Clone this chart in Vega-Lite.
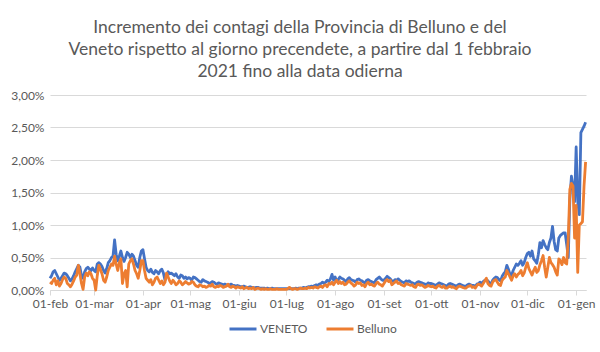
{
"$schema": "https://vega.github.io/schema/vega-lite/v6.json",
"width": 536, "height": 195,
"autosize": {"type": "none"},
"padding": {"left": 50, "top": 95, "right": 14, "bottom": 62},
"background": "white",
"title": {"text": ["Incremento dei contagi della Provincia di Belluno e del", "Veneto rispetto al giorno precendete, a partire dal 1 febbraio", "2021 fino alla data odierna"], "font": "Lato", "fontSize": 17.5, "fontWeight": "normal", "color": "#595959", "lineHeight": 22, "anchor": "middle", "frame": "group", "dx": -18, "offset": 9},
"data": {"values": [
{"d":"2021-02-01","v":0.18,"b":0.12},{"d":"2021-02-02","v":0.22,"b":0.10},{"d":"2021-02-03","v":0.28,"b":0.15},{"d":"2021-02-04","v":0.30,"b":0.18},{"d":"2021-02-05","v":0.25,"b":0.08},{"d":"2021-02-06","v":0.20,"b":0.14},{"d":"2021-02-07","v":0.15,"b":0.06},{"d":"2021-02-08","v":0.18,"b":0.10},{"d":"2021-02-09","v":0.22,"b":0.16},{"d":"2021-02-10","v":0.26,"b":0.20},{"d":"2021-02-11","v":0.25,"b":0.18},{"d":"2021-02-12","v":0.22,"b":0.10},{"d":"2021-02-13","v":0.18,"b":0.08},{"d":"2021-02-14","v":0.14,"b":0.05},{"d":"2021-02-15","v":0.17,"b":0.09},{"d":"2021-02-16","v":0.22,"b":0.14},{"d":"2021-02-17","v":0.28,"b":0.20},{"d":"2021-02-18","v":0.33,"b":0.23},{"d":"2021-02-19","v":0.38,"b":0.38},{"d":"2021-02-20","v":0.35,"b":0.25},{"d":"2021-02-21","v":0.22,"b":0.10},{"d":"2021-02-22","v":0.18,"b":0.01},{"d":"2021-02-23","v":0.28,"b":0.20},{"d":"2021-02-24","v":0.33,"b":0.26},{"d":"2021-02-25","v":0.35,"b":0.22},{"d":"2021-02-26","v":0.32,"b":0.28},{"d":"2021-02-27","v":0.30,"b":0.25},{"d":"2021-02-28","v":0.34,"b":0.18},
{"d":"2021-03-01","v":0.30,"b":0.15},{"d":"2021-03-02","v":0.28,"b":0.00},{"d":"2021-03-03","v":0.40,"b":0.22},{"d":"2021-03-04","v":0.42,"b":0.38},{"d":"2021-03-05","v":0.40,"b":0.32},{"d":"2021-03-06","v":0.36,"b":0.25},{"d":"2021-03-07","v":0.30,"b":0.15},{"d":"2021-03-08","v":0.26,"b":0.12},{"d":"2021-03-09","v":0.33,"b":0.20},{"d":"2021-03-10","v":0.42,"b":0.30},{"d":"2021-03-11","v":0.45,"b":0.35},{"d":"2021-03-12","v":0.50,"b":0.40},{"d":"2021-03-13","v":0.52,"b":0.38},{"d":"2021-03-14","v":0.77,"b":0.52},{"d":"2021-03-15","v":0.55,"b":0.40},{"d":"2021-03-16","v":0.45,"b":0.30},{"d":"2021-03-17","v":0.52,"b":0.42},{"d":"2021-03-18","v":0.60,"b":0.48},{"d":"2021-03-19","v":0.50,"b":0.10},{"d":"2021-03-20","v":0.44,"b":0.25},{"d":"2021-03-21","v":0.50,"b":0.30},{"d":"2021-03-22","v":0.58,"b":0.05},{"d":"2021-03-23","v":0.55,"b":0.40},{"d":"2021-03-24","v":0.50,"b":0.45},{"d":"2021-03-25","v":0.55,"b":0.48},{"d":"2021-03-26","v":0.52,"b":0.40},{"d":"2021-03-27","v":0.45,"b":0.30},{"d":"2021-03-28","v":0.38,"b":0.25},{"d":"2021-03-29","v":0.35,"b":0.18},{"d":"2021-03-30","v":0.50,"b":0.30},{"d":"2021-03-31","v":0.60,"b":0.45},
{"d":"2021-04-01","v":0.62,"b":0.45},{"d":"2021-04-02","v":0.48,"b":0.30},{"d":"2021-04-03","v":0.35,"b":0.18},{"d":"2021-04-04","v":0.30,"b":0.15},{"d":"2021-04-05","v":0.28,"b":0.12},{"d":"2021-04-06","v":0.32,"b":0.16},{"d":"2021-04-07","v":0.27,"b":0.08},{"d":"2021-04-08","v":0.25,"b":0.12},{"d":"2021-04-09","v":0.30,"b":0.18},{"d":"2021-04-10","v":0.28,"b":0.20},{"d":"2021-04-11","v":0.25,"b":0.15},{"d":"2021-04-12","v":0.30,"b":0.10},{"d":"2021-04-13","v":0.32,"b":0.14},{"d":"2021-04-14","v":0.26,"b":0.08},{"d":"2021-04-15","v":0.15,"b":0.12},{"d":"2021-04-16","v":0.22,"b":0.26},{"d":"2021-04-17","v":0.28,"b":0.20},{"d":"2021-04-18","v":0.25,"b":0.14},{"d":"2021-04-19","v":0.26,"b":0.10},{"d":"2021-04-20","v":0.24,"b":0.15},{"d":"2021-04-21","v":0.22,"b":0.12},{"d":"2021-04-22","v":0.25,"b":0.08},{"d":"2021-04-23","v":0.20,"b":0.10},{"d":"2021-04-24","v":0.18,"b":0.14},{"d":"2021-04-25","v":0.23,"b":0.12},{"d":"2021-04-26","v":0.22,"b":0.08},{"d":"2021-04-27","v":0.18,"b":0.10},{"d":"2021-04-28","v":0.20,"b":0.13},{"d":"2021-04-29","v":0.17,"b":0.11},{"d":"2021-04-30","v":0.19,"b":0.09},
{"d":"2021-05-01","v":0.18,"b":0.10},{"d":"2021-05-02","v":0.15,"b":0.13},{"d":"2021-05-03","v":0.20,"b":0.12},{"d":"2021-05-04","v":0.19,"b":0.08},{"d":"2021-05-05","v":0.17,"b":0.06},{"d":"2021-05-06","v":0.15,"b":0.05},{"d":"2021-05-07","v":0.13,"b":0.08},{"d":"2021-05-08","v":0.12,"b":0.07},{"d":"2021-05-09","v":0.16,"b":0.05},{"d":"2021-05-10","v":0.14,"b":0.06},{"d":"2021-05-11","v":0.13,"b":0.04},{"d":"2021-05-12","v":0.12,"b":0.05},{"d":"2021-05-13","v":0.10,"b":0.07},{"d":"2021-05-14","v":0.11,"b":0.06},{"d":"2021-05-15","v":0.13,"b":0.09},{"d":"2021-05-16","v":0.12,"b":0.05},{"d":"2021-05-17","v":0.10,"b":0.04},{"d":"2021-05-18","v":0.09,"b":0.06},{"d":"2021-05-19","v":0.11,"b":0.05},{"d":"2021-05-20","v":0.10,"b":0.07},{"d":"2021-05-21","v":0.09,"b":0.06},{"d":"2021-05-22","v":0.08,"b":0.04},{"d":"2021-05-23","v":0.09,"b":0.05},{"d":"2021-05-24","v":0.08,"b":0.06},{"d":"2021-05-25","v":0.07,"b":0.09},{"d":"2021-05-26","v":0.08,"b":0.05},{"d":"2021-05-27","v":0.09,"b":0.04},{"d":"2021-05-28","v":0.07,"b":0.06},{"d":"2021-05-29","v":0.07,"b":0.05},{"d":"2021-05-30","v":0.06,"b":0.03},{"d":"2021-05-31","v":0.07,"b":0.05},
{"d":"2021-06-01","v":0.06,"b":0.04},{"d":"2021-06-02","v":0.05,"b":0.03},{"d":"2021-06-03","v":0.05,"b":0.05},{"d":"2021-06-04","v":0.06,"b":0.02},{"d":"2021-06-05","v":0.05,"b":0.03},{"d":"2021-06-06","v":0.04,"b":0.04},{"d":"2021-06-07","v":0.04,"b":0.02},{"d":"2021-06-08","v":0.05,"b":0.03},{"d":"2021-06-09","v":0.04,"b":0.02},{"d":"2021-06-10","v":0.04,"b":0.04},{"d":"2021-06-11","v":0.03,"b":0.01},{"d":"2021-06-12","v":0.04,"b":0.02},{"d":"2021-06-13","v":0.04,"b":0.03},{"d":"2021-06-14","v":0.03,"b":0.02},{"d":"2021-06-15","v":0.03,"b":0.01},{"d":"2021-06-16","v":0.03,"b":0.02},{"d":"2021-06-17","v":0.03,"b":0.01},{"d":"2021-06-18","v":0.02,"b":0.02},{"d":"2021-06-19","v":0.03,"b":0.01},{"d":"2021-06-20","v":0.02,"b":0.01},{"d":"2021-06-21","v":0.02,"b":0.02},{"d":"2021-06-22","v":0.03,"b":0.01},{"d":"2021-06-23","v":0.02,"b":0.01},{"d":"2021-06-24","v":0.02,"b":0.01},{"d":"2021-06-25","v":0.02,"b":0.02},{"d":"2021-06-26","v":0.02,"b":0.01},{"d":"2021-06-27","v":0.02,"b":0.01},{"d":"2021-06-28","v":0.02,"b":0.01},{"d":"2021-06-29","v":0.02,"b":0.01},{"d":"2021-06-30","v":0.02,"b":0.01},
{"d":"2021-07-01","v":0.02,"b":0.01},{"d":"2021-07-02","v":0.02,"b":0.02},{"d":"2021-07-03","v":0.03,"b":0.04},{"d":"2021-07-04","v":0.02,"b":0.02},{"d":"2021-07-05","v":0.02,"b":0.01},{"d":"2021-07-06","v":0.02,"b":0.02},{"d":"2021-07-07","v":0.03,"b":0.02},{"d":"2021-07-08","v":0.02,"b":0.01},{"d":"2021-07-09","v":0.03,"b":0.02},{"d":"2021-07-10","v":0.03,"b":0.03},{"d":"2021-07-11","v":0.03,"b":0.02},{"d":"2021-07-12","v":0.04,"b":0.02},{"d":"2021-07-13","v":0.03,"b":0.03},{"d":"2021-07-14","v":0.04,"b":0.02},{"d":"2021-07-15","v":0.05,"b":0.04},{"d":"2021-07-16","v":0.05,"b":0.03},{"d":"2021-07-17","v":0.06,"b":0.04},{"d":"2021-07-18","v":0.05,"b":0.03},{"d":"2021-07-19","v":0.07,"b":0.05},{"d":"2021-07-20","v":0.08,"b":0.04},{"d":"2021-07-21","v":0.07,"b":0.03},{"d":"2021-07-22","v":0.09,"b":0.05},{"d":"2021-07-23","v":0.10,"b":0.06},{"d":"2021-07-24","v":0.12,"b":0.04},{"d":"2021-07-25","v":0.10,"b":0.07},{"d":"2021-07-26","v":0.12,"b":0.08},{"d":"2021-07-27","v":0.15,"b":0.05},{"d":"2021-07-28","v":0.13,"b":0.10},{"d":"2021-07-29","v":0.17,"b":0.09},{"d":"2021-07-30","v":0.24,"b":0.12},{"d":"2021-07-31","v":0.15,"b":0.08},
{"d":"2021-08-01","v":0.20,"b":0.12},{"d":"2021-08-02","v":0.14,"b":0.15},{"d":"2021-08-03","v":0.16,"b":0.10},{"d":"2021-08-04","v":0.20,"b":0.13},{"d":"2021-08-05","v":0.18,"b":0.10},{"d":"2021-08-06","v":0.17,"b":0.12},{"d":"2021-08-07","v":0.15,"b":0.08},{"d":"2021-08-08","v":0.13,"b":0.09},{"d":"2021-08-09","v":0.17,"b":0.12},{"d":"2021-08-10","v":0.19,"b":0.14},{"d":"2021-08-11","v":0.16,"b":0.11},{"d":"2021-08-12","v":0.15,"b":0.09},{"d":"2021-08-13","v":0.14,"b":0.06},{"d":"2021-08-14","v":0.12,"b":0.08},{"d":"2021-08-15","v":0.16,"b":0.12},{"d":"2021-08-16","v":0.17,"b":0.10},{"d":"2021-08-17","v":0.15,"b":0.11},{"d":"2021-08-18","v":0.14,"b":0.07},{"d":"2021-08-19","v":0.12,"b":0.08},{"d":"2021-08-20","v":0.11,"b":0.05},{"d":"2021-08-21","v":0.15,"b":0.10},{"d":"2021-08-22","v":0.16,"b":0.12},{"d":"2021-08-23","v":0.14,"b":0.08},{"d":"2021-08-24","v":0.13,"b":0.09},{"d":"2021-08-25","v":0.12,"b":0.07},{"d":"2021-08-26","v":0.11,"b":0.06},{"d":"2021-08-27","v":0.16,"b":0.10},{"d":"2021-08-28","v":0.18,"b":0.12},{"d":"2021-08-29","v":0.20,"b":0.09},{"d":"2021-08-30","v":0.17,"b":0.08},{"d":"2021-08-31","v":0.15,"b":0.06},
{"d":"2021-09-01","v":0.15,"b":0.10},{"d":"2021-09-02","v":0.18,"b":0.14},{"d":"2021-09-03","v":0.21,"b":0.16},{"d":"2021-09-04","v":0.19,"b":0.13},{"d":"2021-09-05","v":0.17,"b":0.15},{"d":"2021-09-06","v":0.14,"b":0.08},{"d":"2021-09-07","v":0.13,"b":0.10},{"d":"2021-09-08","v":0.16,"b":0.12},{"d":"2021-09-09","v":0.15,"b":0.14},{"d":"2021-09-10","v":0.17,"b":0.10},{"d":"2021-09-11","v":0.15,"b":0.11},{"d":"2021-09-12","v":0.13,"b":0.08},{"d":"2021-09-13","v":0.12,"b":0.07},{"d":"2021-09-14","v":0.11,"b":0.06},{"d":"2021-09-15","v":0.14,"b":0.10},{"d":"2021-09-16","v":0.13,"b":0.09},{"d":"2021-09-17","v":0.14,"b":0.08},{"d":"2021-09-18","v":0.12,"b":0.07},{"d":"2021-09-19","v":0.11,"b":0.08},{"d":"2021-09-20","v":0.10,"b":0.05},{"d":"2021-09-21","v":0.09,"b":0.04},{"d":"2021-09-22","v":0.12,"b":0.08},{"d":"2021-09-23","v":0.13,"b":0.09},{"d":"2021-09-24","v":0.12,"b":0.07},{"d":"2021-09-25","v":0.11,"b":0.08},{"d":"2021-09-26","v":0.10,"b":0.06},{"d":"2021-09-27","v":0.09,"b":0.04},{"d":"2021-09-28","v":0.08,"b":0.05},{"d":"2021-09-29","v":0.11,"b":0.07},{"d":"2021-09-30","v":0.10,"b":0.06},
{"d":"2021-10-01","v":0.10,"b":0.05},{"d":"2021-10-02","v":0.09,"b":0.06},{"d":"2021-10-03","v":0.08,"b":0.04},{"d":"2021-10-04","v":0.07,"b":0.03},{"d":"2021-10-05","v":0.09,"b":0.06},{"d":"2021-10-06","v":0.11,"b":0.07},{"d":"2021-10-07","v":0.10,"b":0.05},{"d":"2021-10-08","v":0.09,"b":0.04},{"d":"2021-10-09","v":0.08,"b":0.06},{"d":"2021-10-10","v":0.07,"b":0.03},{"d":"2021-10-11","v":0.06,"b":0.03},{"d":"2021-10-12","v":0.09,"b":0.05},{"d":"2021-10-13","v":0.10,"b":0.06},{"d":"2021-10-14","v":0.09,"b":0.04},{"d":"2021-10-15","v":0.08,"b":0.05},{"d":"2021-10-16","v":0.07,"b":0.03},{"d":"2021-10-17","v":0.06,"b":0.02},{"d":"2021-10-18","v":0.08,"b":0.05},{"d":"2021-10-19","v":0.09,"b":0.06},{"d":"2021-10-20","v":0.08,"b":0.05},{"d":"2021-10-21","v":0.07,"b":0.04},{"d":"2021-10-22","v":0.06,"b":0.03},{"d":"2021-10-23","v":0.06,"b":0.03},{"d":"2021-10-24","v":0.08,"b":0.05},{"d":"2021-10-25","v":0.09,"b":0.06},{"d":"2021-10-26","v":0.08,"b":0.07},{"d":"2021-10-27","v":0.07,"b":0.04},{"d":"2021-10-28","v":0.07,"b":0.05},{"d":"2021-10-29","v":0.06,"b":0.03},{"d":"2021-10-30","v":0.09,"b":0.07},{"d":"2021-10-31","v":0.10,"b":0.09},
{"d":"2021-11-01","v":0.12,"b":0.08},{"d":"2021-11-02","v":0.10,"b":0.06},{"d":"2021-11-03","v":0.13,"b":0.10},{"d":"2021-11-04","v":0.15,"b":0.14},{"d":"2021-11-05","v":0.16,"b":0.18},{"d":"2021-11-06","v":0.14,"b":0.10},{"d":"2021-11-07","v":0.11,"b":0.07},{"d":"2021-11-08","v":0.10,"b":0.06},{"d":"2021-11-09","v":0.15,"b":0.12},{"d":"2021-11-10","v":0.18,"b":0.15},{"d":"2021-11-11","v":0.20,"b":0.16},{"d":"2021-11-12","v":0.19,"b":0.12},{"d":"2021-11-13","v":0.16,"b":0.08},{"d":"2021-11-14","v":0.14,"b":0.07},{"d":"2021-11-15","v":0.21,"b":0.15},{"d":"2021-11-16","v":0.25,"b":0.18},{"d":"2021-11-17","v":0.28,"b":0.20},{"d":"2021-11-18","v":0.38,"b":0.30},{"d":"2021-11-19","v":0.32,"b":0.25},{"d":"2021-11-20","v":0.24,"b":0.20},{"d":"2021-11-21","v":0.22,"b":0.15},{"d":"2021-11-22","v":0.30,"b":0.22},{"d":"2021-11-23","v":0.35,"b":0.25},{"d":"2021-11-24","v":0.40,"b":0.20},{"d":"2021-11-25","v":0.38,"b":0.24},{"d":"2021-11-26","v":0.41,"b":0.26},{"d":"2021-11-27","v":0.45,"b":0.30},{"d":"2021-11-28","v":0.38,"b":0.22},{"d":"2021-11-29","v":0.42,"b":0.26},{"d":"2021-11-30","v":0.50,"b":0.35},
{"d":"2021-12-01","v":0.56,"b":0.42},{"d":"2021-12-02","v":0.58,"b":0.33},{"d":"2021-12-03","v":0.52,"b":0.28},{"d":"2021-12-04","v":0.60,"b":0.23},{"d":"2021-12-05","v":0.48,"b":0.30},{"d":"2021-12-06","v":0.45,"b":0.35},{"d":"2021-12-07","v":0.41,"b":0.27},{"d":"2021-12-08","v":0.55,"b":0.30},{"d":"2021-12-09","v":0.73,"b":0.39},{"d":"2021-12-10","v":0.65,"b":0.45},{"d":"2021-12-11","v":0.76,"b":0.53},{"d":"2021-12-12","v":0.70,"b":0.35},{"d":"2021-12-13","v":0.65,"b":0.20},{"d":"2021-12-14","v":0.62,"b":0.35},{"d":"2021-12-15","v":0.73,"b":0.50},{"d":"2021-12-16","v":0.80,"b":0.42},{"d":"2021-12-17","v":0.98,"b":0.39},{"d":"2021-12-18","v":0.75,"b":0.35},{"d":"2021-12-19","v":0.62,"b":0.28},{"d":"2021-12-20","v":0.60,"b":0.23},{"d":"2021-12-21","v":0.80,"b":0.48},{"d":"2021-12-22","v":0.84,"b":0.45},{"d":"2021-12-23","v":0.86,"b":0.39},{"d":"2021-12-24","v":0.88,"b":0.50},{"d":"2021-12-25","v":0.88,"b":0.42},{"d":"2021-12-26","v":0.70,"b":0.40},{"d":"2021-12-27","v":0.50,"b":0.80},{"d":"2021-12-28","v":1.40,"b":1.55},{"d":"2021-12-29","v":1.75,"b":1.64},{"d":"2021-12-30","v":1.60,"b":1.60},{"d":"2021-12-31","v":1.36,"b":0.80},
{"d":"2022-01-01","v":2.20,"b":1.30},{"d":"2022-01-02","v":1.36,"b":0.27},{"d":"2022-01-03","v":1.16,"b":1.00},{"d":"2022-01-04","v":2.42,"b":1.02},{"d":"2022-01-05","v":2.47,"b":1.05},{"d":"2022-01-06","v":2.52,"b":1.60},{"d":"2022-01-07","v":2.58,"b":1.97}
]},
"transform": [{"fold": ["v", "b"], "as": ["s", "value"]}],
"encoding": {
  "x": {"field": "d", "type": "temporal",
    "scale": {"type": "utc", "domain": [{"year": 2021, "month": 2, "date": 1, "utc": true}, {"year": 2022, "month": 1, "date": 7, "hours": 6, "utc": true}]},
    "axis": {"title": null, "tickCount": {"interval": "month", "step": 1}, "labelExpr": "'01-' + ['gen','feb','mar','apr','mag','giu','lug','ago','set','ott','nov','dic'][utcmonth(datum.value)]", "grid": false, "domainColor": "#D9D9D9", "tickColor": "#D9D9D9", "tickSize": 5, "labelPadding": 3, "labelOverlap": false, "labelBound": false, "labelFlush": false}},
  "y": {"field": "value", "type": "quantitative", "scale": {"domain": [0, 3], "nice": false, "zero": true},
    "axis": {"title": null, "values": [0, 0.5, 1, 1.5, 2, 2.5, 3], "labelOverlap": false, "labelExpr": "replace(format(datum.value, '.2f'), '.', ',') + '%'", "domain": false, "ticks": false, "grid": true, "gridColor": "#D9D9D9", "labelPadding": 6}}
},
"layer": [
  {"transform": [{"filter": "datum.s === 'v'"}],
   "mark": {"type": "line", "strokeWidth": 2.8, "strokeJoin": "round"},
   "encoding": {
     "color": {"datum": "VENETO", "type": "nominal", "scale": {"domain": ["VENETO", "Belluno"], "range": ["#4472C4", "#ED7D31"]},
       "legend": {"title": null, "orient": "none", "legendX": 178, "legendY": 219, "direction": "horizontal", "symbolType": "stroke", "symbolSize": 729, "symbolStrokeWidth": 3, "labelFontSize": 12, "labelColor": "#595959", "labelFont": "Lato", "columnPadding": 12, "labelOffset": 2}}
   }},
  {"transform": [{"filter": "datum.s === 'b'"}],
   "mark": {"type": "line", "strokeWidth": 2.8, "strokeJoin": "round"},
   "encoding": {
     "color": {"datum": "Belluno", "type": "nominal"}
   }}
],
"config": {
  "font": "Lato",
  "view": {"stroke": null},
  "axis": {"labelFont": "Lato", "labelFontSize": 12, "labelColor": "#595959"}
}
}
